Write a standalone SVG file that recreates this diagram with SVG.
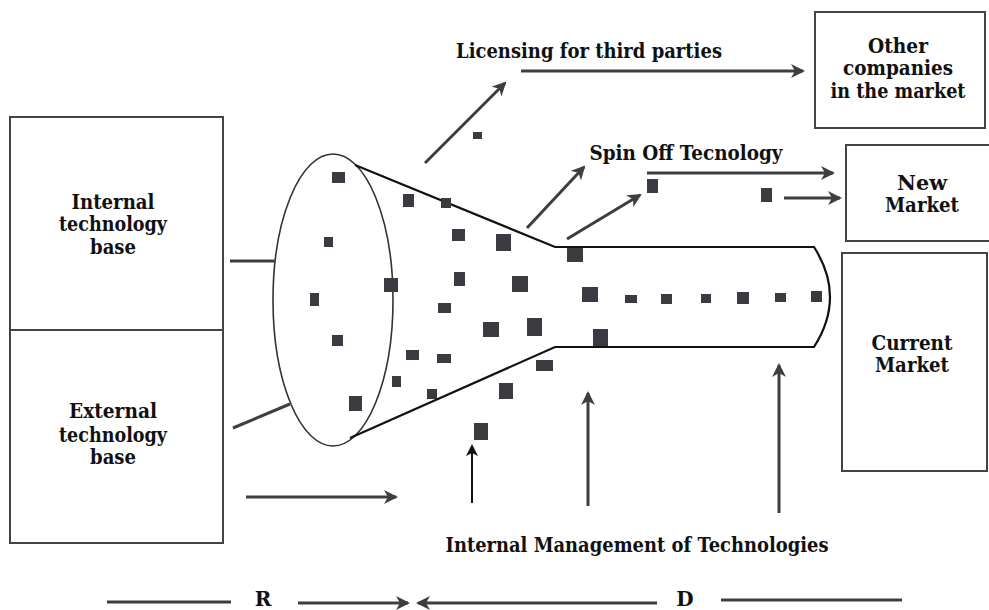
<svg xmlns="http://www.w3.org/2000/svg" width="989" height="610" viewBox="0 0 989 610">
<style>
.box{fill:#fff;stroke:#444;stroke-width:2}
text{font-family:'DejaVu Serif','Liberation Serif',serif;font-weight:bold;font-size:20px;fill:#111;text-anchor:middle}
.c{fill:none;stroke:#3e3d42;stroke-width:3}
.cb{fill:none;stroke:#111;stroke-width:2}
.funnel{fill:none;stroke:#111;stroke-width:2.2}
.sq rect{fill:#3c3940}
</style>
<defs>
<marker id="ah" viewBox="0 0 14 14" refX="12" refY="7" markerWidth="14" markerHeight="14" markerUnits="userSpaceOnUse" orient="auto">
<path d="M0,0 L14,7 L0,14 L4,7 z" fill="#3e3d42"/>
</marker>
<marker id="ahb" viewBox="0 0 12 14" refX="10" refY="7" markerWidth="12" markerHeight="14" markerUnits="userSpaceOnUse" orient="auto">
<path d="M0,1 L12,7 L0,13 L3,7 z" fill="#111"/>
</marker>
</defs>
<rect width="989" height="610" fill="#fff"/>

<g id="internal-base">
<rect class="box" x="10" y="117" width="213" height="213"/>
<text x="113" y="209" textLength="83" lengthAdjust="spacingAndGlyphs">Internal</text>
<text x="113" y="231" textLength="108" lengthAdjust="spacingAndGlyphs">technology</text>
<text x="113" y="254" textLength="46" lengthAdjust="spacingAndGlyphs">base</text>
</g>
<g id="external-base">
<rect class="box" x="10" y="330" width="213" height="213"/>
<text x="113" y="418" textLength="88" lengthAdjust="spacingAndGlyphs">External</text>
<text x="113" y="442" textLength="108" lengthAdjust="spacingAndGlyphs">technology</text>
<text x="113" y="464" textLength="46" lengthAdjust="spacingAndGlyphs">base</text>
</g>
<g id="other-companies">
<rect class="box" x="815" y="12" width="170" height="116"/>
<text x="898" y="53" textLength="60" lengthAdjust="spacingAndGlyphs">Other</text>
<text x="898" y="75" textLength="110" lengthAdjust="spacingAndGlyphs">companies</text>
<text x="898" y="98" textLength="135" lengthAdjust="spacingAndGlyphs">in the market</text>
</g>
<g id="new-market">
<rect class="box" x="846" y="145" width="150" height="96"/>
<text x="922" y="190" textLength="50" lengthAdjust="spacingAndGlyphs">New</text>
<text x="922" y="212" textLength="74" lengthAdjust="spacingAndGlyphs">Market</text>
</g>
<g id="current-market">
<rect class="box" x="842" y="253" width="145" height="218"/>
<text x="912" y="350" textLength="81" lengthAdjust="spacingAndGlyphs">Current</text>
<text x="912" y="372" textLength="74" lengthAdjust="spacingAndGlyphs">Market</text>
</g>

<g id="funnel">
<ellipse cx="333" cy="300" rx="60" ry="146" fill="none" stroke="#333" stroke-width="1.6"/>
<path class="funnel" d="M355,165 L555,247 L814,247 Q846,297 814,347 L555,347 L350,438"/>
</g>

<g id="technologies" class="sq">
<rect x="332" y="172" width="13" height="11"/>
<rect x="403" y="194" width="11" height="13"/>
<rect x="441" y="198" width="10" height="10"/>
<rect x="324" y="237" width="9" height="10"/>
<rect x="452" y="229" width="13" height="12"/>
<rect x="496" y="234" width="15" height="17"/>
<rect x="384" y="278" width="14" height="14"/>
<rect x="454" y="272" width="11" height="14"/>
<rect x="512" y="276" width="16" height="16"/>
<rect x="310" y="293" width="9" height="13"/>
<rect x="438" y="303" width="13" height="10"/>
<rect x="483" y="322" width="16" height="15"/>
<rect x="527" y="318" width="15" height="18"/>
<rect x="332" y="335" width="11" height="11"/>
<rect x="406" y="350" width="13" height="10"/>
<rect x="437" y="354" width="14" height="9"/>
<rect x="392" y="376" width="9" height="11"/>
<rect x="427" y="389" width="10" height="10"/>
<rect x="349" y="396" width="13" height="15"/>
<rect x="536" y="360" width="17" height="11"/>
<rect x="499" y="383" width="14" height="16"/>
<rect x="474" y="423" width="14" height="17"/>
<rect x="567" y="248" width="16" height="14"/>
<rect x="582" y="287" width="16" height="15"/>
<rect x="593" y="329" width="15" height="17"/>
<rect x="625" y="295" width="12" height="8"/>
<rect x="661" y="294" width="11" height="10"/>
<rect x="701" y="294" width="10" height="9"/>
<rect x="737" y="292" width="12" height="12"/>
<rect x="775" y="293" width="11" height="9"/>
<rect x="811" y="291" width="11" height="11"/>
<rect x="473" y="132" width="9" height="7"/>
<rect x="647" y="179" width="11" height="14"/>
<rect x="761" y="188" width="11" height="14"/>
</g>

<g id="labels">
<text x="589" y="58" textLength="266" lengthAdjust="spacingAndGlyphs">Licensing for third parties</text>
<text x="686" y="160" textLength="193" lengthAdjust="spacingAndGlyphs">Spin Off Tecnology</text>
<text x="637" y="552" textLength="383" lengthAdjust="spacingAndGlyphs">Internal Management of Technologies</text>
<text x="263" y="606">R</text>
<text x="685" y="606">D</text>
</g>

<g id="connectors">
<line class="c" x1="230" y1="261" x2="275" y2="261" stroke-width="2.5"/>
<line class="c" x1="233" y1="428" x2="290" y2="404" stroke-width="2.5"/>
<line class="c" x1="425" y1="163" x2="505" y2="83" marker-end="url(#ah)"/>
<line class="c" x1="521" y1="71" x2="803" y2="71" marker-end="url(#ah)"/>
<line class="c" x1="527" y1="228" x2="584" y2="167" marker-end="url(#ah)"/>
<line class="c" x1="567" y1="239" x2="640" y2="195" marker-end="url(#ah)"/>
<line class="c" x1="647" y1="173" x2="833" y2="173" marker-end="url(#ah)"/>
<line class="c" x1="784" y1="198" x2="840" y2="198" marker-end="url(#ah)"/>
<line class="c" x1="246" y1="497" x2="396" y2="497" marker-end="url(#ah)"/>
<line class="cb" x1="472" y1="503" x2="472" y2="446" marker-end="url(#ahb)"/>
<line class="c" x1="588" y1="506" x2="588" y2="393" stroke-width="2.5" marker-end="url(#ah)"/>
<line class="c" x1="779" y1="513" x2="779" y2="365" stroke-width="2.5" marker-end="url(#ah)"/>
<line class="c" x1="107" y1="602" x2="231" y2="602"/>
<line class="c" x1="298" y1="603" x2="408" y2="603" marker-end="url(#ah)"/>
<line class="c" x1="657" y1="603" x2="418" y2="603" marker-end="url(#ah)"/>
<line class="c" x1="721" y1="600" x2="902" y2="600" stroke-width="2.5"/>
</g>
</svg>
